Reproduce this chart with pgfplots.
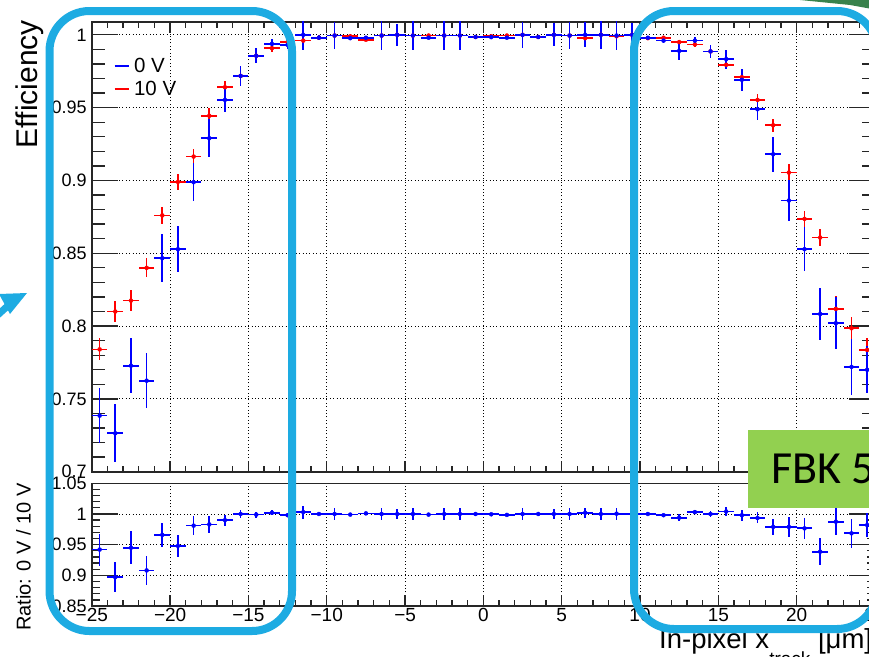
\documentclass[border=0pt]{standalone}
\usepackage{fontspec}
\setmainfont{Liberation Sans}
\newfontfamily\calibri{Carlito}
\usepackage{pgfplots}
\usepackage{pgfplotstable}
\pgfplotsset{compat=1.18}

\definecolor{rootblue}{RGB}{0,0,255}
\definecolor{rootred}{RGB}{255,0,0}
\definecolor{hlblue}{RGB}{29,171,226}
\definecolor{taggreen}{RGB}{146,208,80}
\definecolor{arrowgreen}{RGB}{56,130,76}

% efficiency vs in-pixel track position, bias 10 V
\pgfplotstableread{
x     y      ey
-24.5 0.784  0.0075
-23.5 0.810  0.0072
-22.5 0.8175 0.007
-21.5 0.840  0.0065
-20.5 0.876  0.006
-19.5 0.899  0.0055
-18.5 0.9164 0.0055
-17.5 0.9444 0.0052
-16.5 0.964  0.004
-15.5 0.9718 0.0035
-14.5 0.9856 0.003
-13.5 0.9908 0.0025
-12.5 0.995  0.002
-11.5 0.996  0.0015
-10.5 0.998  0.001
-9.5  0.9995 0.0005
-8.5  0.999  0.0008
-7.5  0.9966 0.001
-6.5  0.9995 0.0005
-5.5  1.0    0.0005
-4.5  0.9995 0.0005
-3.5  0.9995 0.0005
-2.5  0.9995 0.0005
-1.5  0.9995 0.0005
-0.5  0.9985 0.0008
0.5   0.999  0.0008
1.5   0.9995 0.0005
2.5   1.0    0.0005
3.5   0.9985 0.0008
4.5   1.0    0.0005
5.5   0.9995 0.0005
6.5   0.9977 0.001
7.5   1.0    0.0005
8.5   0.999  0.0008
9.5   1.0    0.0005
10.5  0.9977 0.001
11.5  0.998  0.001
12.5  0.995  0.0015
13.5  0.9934 0.002
14.5  0.9886 0.0025
15.5  0.9794 0.003
16.5  0.9709 0.0035
17.5  0.9553 0.004
18.5  0.9379 0.0046
19.5  0.9054 0.0058
20.5  0.8736 0.0057
21.5  0.8608 0.0057
22.5  0.8118 0.0088
23.5  0.7985 0.008
24.5  0.7836 0.008
}\effTen

% efficiency vs in-pixel track position, bias 0 V
\pgfplotstableread{
x     y      ey
-24.5 0.7385 0.019
-23.5 0.7264 0.020
-22.5 0.7728 0.019
-21.5 0.7625 0.019
-20.5 0.8466 0.0166
-19.5 0.8528 0.016
-18.5 0.8988 0.013
-17.5 0.929  0.013
-16.5 0.9553 0.0086
-15.5 0.9718 0.007
-14.5 0.9856 0.005
-13.5 0.9938 0.0035
-12.5 0.9931 0.003
-11.5 1.0    0.0105
-10.5 0.998  0.0017
-9.5  0.9995 0.009
-8.5  0.9977 0.0015
-7.5  0.998  0.0015
-6.5  0.9995 0.010
-5.5  1.0    0.0075
-4.5  0.9995 0.0098
-3.5  0.998  0.001
-2.5  0.9995 0.0098
-1.5  0.9995 0.0098
-0.5  0.9985 0.001
0.5   0.9984 0.001
1.5   0.998  0.001
2.5   1.0    0.009
3.5   0.9985 0.001
4.5   1.0    0.008
5.5   0.9995 0.0095
6.5   1.0    0.0085
7.5   1.0    0.0098
8.5   0.9995 0.0098
9.5   1.0    0.008
10.5  0.998  0.0015
11.5  0.996  0.0015
12.5  0.989  0.006
13.5  0.996  0.0025
14.5  0.9886 0.0044
15.5  0.9833 0.0065
16.5  0.9691 0.0074
17.5  0.9489 0.0074
18.5  0.918  0.012
19.5  0.8862 0.0143
20.5  0.8528 0.0149
21.5  0.8083 0.0176
22.5  0.802  0.0177
23.5  0.772  0.019
24.5  0.770  0.016
}\effZero

% ratio 0 V / 10 V
\pgfplotstableread{
x     y      ey
-24.5 0.942  0.026
-23.5 0.897  0.024
-22.5 0.945  0.027
-21.5 0.908  0.024
-20.5 0.966  0.019
-19.5 0.948  0.018
-18.5 0.981  0.015
-17.5 0.983  0.0136
-16.5 0.990  0.009
-15.5 1.000  0.0065
-14.5 0.999  0.005
-13.5 1.002  0.004
-12.5 0.998  0.003
-11.5 1.003  0.0105
-10.5 1.000  0.002
-9.5  1.000  0.009
-8.5  0.999  0.002
-7.5  1.001  0.002
-6.5  1.000  0.010
-5.5  1.000  0.0075
-4.5  1.000  0.0098
-3.5  0.999  0.0015
-2.5  1.000  0.0098
-1.5  1.000  0.0098
-0.5  1.000  0.0015
0.5   0.9995 0.0015
1.5   0.9985 0.0015
2.5   1.000  0.009
3.5   1.000  0.0015
4.5   1.000  0.008
5.5   1.000  0.0095
6.5   1.002  0.0085
7.5   1.000  0.0098
8.5   1.0005 0.0098
9.5   1.000  0.008
10.5  1.000  0.002
11.5  0.998  0.002
12.5  0.994  0.006
13.5  1.003  0.003
14.5  1.000  0.005
15.5  1.004  0.0075
16.5  0.998  0.009
17.5  0.9935 0.009
18.5  0.979  0.013
19.5  0.979  0.016
20.5  0.9766 0.017
21.5  0.9386 0.022
22.5  0.9875 0.022
23.5  0.9685 0.024
24.5  0.982  0.020
}\ratioTab

\pgfplotsset{
  rootframe/.style={
    scale only axis,
    width=783.2pt,
    xmin=-25, xmax=25,
    xtick={-25,-20,-15,-10,-5,0,5,10,15,20,25},
    minor x tick num=4,
    minor y tick num=4,
    tick align=inside,
    axis line style={line width=1.6pt, black!85},
    tick style={line width=1.3pt, black!85},
    grid=major,
    major grid style={black, line width=0.9pt, dash pattern=on 1pt off 2.4pt},
    x tick style={/pgfplots/major tick length=11pt, /pgfplots/minor tick length=6pt},
    yticklabel style={font=\fontsize{18}{21}\selectfont, inner sep=0pt, xshift=-5pt},
    xticklabel style={font=\fontsize{19}{22}\selectfont, inner sep=0pt, yshift=-2pt},
  },
  binbars/.style={
    only marks, mark=none, color=#1, forget plot,
    error bars/.cd, x dir=both, x fixed=0.5, y dir=both, y explicit,
    error mark=none, error bar style={line width=1.7pt, #1},
  },
}

\begin{document}
\begin{tikzpicture}
\useasboundingbox (0pt,0pt) rectangle (869pt,-656pt);
\clip (0pt,0pt) rectangle (869pt,-656pt);

% upper pad: efficiency
\begin{axis}[
  rootframe,
  height=450pt,
  at={(91.8pt,-21.7pt)}, anchor=north west,
  ymin=0.7, ymax=1.009,
  xticklabels={},
  ytick={0.7,0.75,0.8,0.85,0.9,0.95,1},
  yticklabels={0.7,0.75,0.8,0.85,0.9,0.95,1},
  y tick style={/pgfplots/major tick length=26pt, /pgfplots/minor tick length=13pt},
  legend style={at={(0.028,0.923)}, anchor=north west, draw=none, fill=none,
    font=\fontsize{20.5}{24}\selectfont, inner sep=0pt, row sep=4pt,
    nodes={inner sep=1.5pt},
    /tikz/every odd column/.append style={column sep=3pt}},
  legend cell align=left,
  legend image code/.code={\draw[line width=1.6pt] (0pt,0pt) -- (14pt,0pt);},
]
\addlegendimage{rootblue}
\addlegendentry{0 V}
\addlegendimage{rootred}
\addlegendentry{10 V}
\addplot[binbars=rootred] table[x=x, y=y, y error=ey] {\effTen};
\addplot[binbars=rootblue] table[x=x, y=y, y error=ey] {\effZero};
\end{axis}

% lower pad: ratio
\begin{axis}[
  rootframe,
  height=122.7pt,
  at={(91.8pt,-483.3pt)}, anchor=north west,
  ymin=0.85, ymax=1.05,
  xtick pos=left,
  xticklabels={−25,−20,−15,−10,−5,0,5,10,15,20,25},
  ytick={0.85,0.9,0.95,1,1.05},
  yticklabels={0.85,0.9,0.95,1,1.05},
  y tick style={/pgfplots/major tick length=26pt, /pgfplots/minor tick length=8pt},
]
\addplot[binbars=rootblue] table[x=x, y=y, y error=ey] {\ratioTab};
\end{axis}

% axis titles
\node[rotate=90, anchor=base east, inner sep=0pt, font=\fontsize{30}{36}\selectfont]
  at (37.5pt,-20pt) {Efficiency};
\node[rotate=90, anchor=base east, inner sep=0pt, font=\fontsize{20}{24}\selectfont]
  at (30.7pt,-483pt) {Ratio: 0 V / 10 V};
\node[anchor=base west, inner sep=0pt, font=\fontsize{27.5}{32}\selectfont]
  at (659pt,-648pt) {In-pixel x\raisebox{-17pt}{\fontsize{19}{22}\selectfont track} [μm]};

% slide annotations
\fill[arrowgreen] (800pt,0pt) -- (872pt,0pt) -- (872pt,-9pt) -- (850pt,-5pt) -- cycle;
\fill[hlblue] (27pt,-293pt) -- (-1pt,-294pt) -- (10pt,-314pt) -- cycle;
\draw[hlblue, line width=7pt] (12pt,-302pt) -- (-10pt,-322pt);
\draw[hlblue, line width=8pt, rounded corners=40pt] (49.5pt,-11pt) rectangle (292pt,-631pt);
\draw[hlblue, line width=8pt, rounded corners=40pt] (634pt,-11pt) rectangle (877pt,-629pt);
\fill[taggreen] (748pt,-430pt) rectangle (880pt,-508pt);
\node[anchor=base west, inner sep=0pt, font=\calibri\fontsize{46}{52}\selectfont]
  at (771pt,-483pt) {FBK 5};
\end{tikzpicture}
\end{document}
